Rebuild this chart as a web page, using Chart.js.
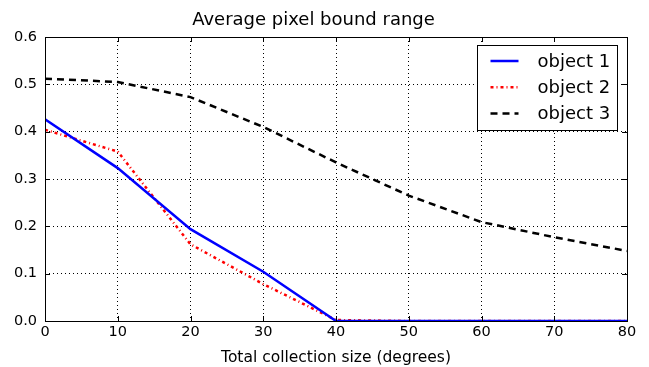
<!DOCTYPE html>
<html>
<head>
<meta charset="utf-8">
<script src="https://cdn.jsdelivr.net/npm/chart.js@4/dist/chart.umd.min.js"></script>
<style>
  html, body { margin: 0; padding: 0; background: #fff; }
  #wrap { width: 649px; height: 367px; }
</style>
</head>
<body>
<div id="wrap"><canvas id="chart"></canvas></div>
<script>
const xValues = [0, 10, 20, 30, 40, 50, 60, 70, 80];
const object1 = [0.426, 0.323, 0.194, 0.104, 0.0, 0.0, 0.0, 0.0, 0.0];
const object2 = [0.404, 0.358, 0.162, 0.078, 0.002, 0.0, 0.0, 0.0, 0.0];
const object3 = [0.512, 0.505, 0.473, 0.410, 0.335, 0.265, 0.209, 0.177, 0.148];
const seriesNames = ['object 1', 'object 2', 'object 3'];

const FONT = 'DejaVu Sans';

function pts(ys) {
    return xValues.map((x, i) => ({x: x, y: ys[i]}));
}

// frame, inward ticks and the boxed legend inside the plot
const frame = {
    id: 'frame',
    afterDraw(chart) {
        const ctx = chart.ctx;
        const a = chart.chartArea;
        const xs = chart.scales.x, ys = chart.scales.y;
        ctx.save();
        ctx.strokeStyle = '#000';
        ctx.lineWidth = 1;
        ctx.setLineDash([]);
        ctx.beginPath();
        xs.ticks.forEach(t => {
            const px = Math.round(xs.getPixelForValue(t.value)) + 0.5;
            ctx.moveTo(px, a.bottom); ctx.lineTo(px, a.bottom - 5);
            ctx.moveTo(px, a.top); ctx.lineTo(px, a.top + 5);
        });
        ys.ticks.forEach(t => {
            const py = Math.round(ys.getPixelForValue(t.value)) + 0.5;
            ctx.moveTo(a.left, py); ctx.lineTo(a.left + 5, py);
            ctx.moveTo(a.right, py); ctx.lineTo(a.right - 5, py);
        });
        ctx.stroke();
        ctx.strokeRect(Math.round(a.left) + 0.5, Math.round(a.top) + 0.5,
            Math.round(a.right - a.left), Math.round(a.bottom - a.top));

        // legend
        const w = 140, h = 85;
        const lx = Math.round(a.right - 10 - w) + 0.5;
        const ly = Math.round(a.top + 8) + 0.5;
        ctx.fillStyle = '#fff';
        ctx.fillRect(lx, ly, w, h);
        ctx.strokeRect(lx, ly, w, h);
        ctx.font = '18px "' + FONT + '"';
        ctx.textBaseline = 'middle';
        chart.data.datasets.forEach((ds, i) => {
            const cy = ly + 15.5 + i * 26.3;
            ctx.strokeStyle = ds.borderColor;
            ctx.lineWidth = 2.5;
            ctx.setLineDash(ds.borderDash || []);
            ctx.beginPath();
            ctx.moveTo(lx + 13, cy); ctx.lineTo(lx + 41, cy);
            ctx.stroke();
            ctx.fillStyle = '#000';
            ctx.fillText(ds.label, lx + 60, cy + 1);
        });
        ctx.restore();
    }
};

new Chart(document.getElementById('chart'), {
    type: 'line',
    data: {
        datasets: [
            {label: seriesNames[0], data: pts(object1), borderColor: '#0000ff', borderWidth: 2.5},
            {label: seriesNames[1], data: pts(object2), borderColor: '#ff0000', borderWidth: 2.5, borderDash: [3, 3, 1, 3]},
            {label: seriesNames[2], data: pts(object3), borderColor: '#000000', borderWidth: 2.5, borderDash: [7, 5]}
        ]
    },
    options: {
        responsive: true,
        maintainAspectRatio: false,
        animation: false,
        layout: {padding: {left: 0, right: 22, top: 0, bottom: 0}},
        elements: {point: {radius: 0}, line: {tension: 0}},
        scales: {
            x: {
                type: 'linear',
                min: 0,
                max: 80,
                ticks: {stepSize: 10, color: '#000', padding: 3, font: {family: FONT, size: 14.5}},
                grid: {color: '#000', lineWidth: 1, drawTicks: false},
                border: {display: false, dash: [1, 3]},
                title: {display: true, text: 'Total collection size (degrees)', color: '#000',
                    font: {family: FONT, size: 15.5}, padding: {top: 2, bottom: 0}},
                afterFit(scale) { scale.height = 46; }
            },
            y: {
                min: 0,
                max: 0.6,
                ticks: {stepSize: 0.1, color: '#000', padding: 8, font: {family: FONT, size: 14.5},
                    callback: v => v.toFixed(1)},
                grid: {color: '#000', lineWidth: 1, drawTicks: false},
                border: {display: false, dash: [1, 3]},
                afterFit(scale) { scale.width = 45; }
            }
        },
        plugins: {
            legend: {display: false},
            tooltip: {enabled: false},
            title: {
                display: true,
                text: 'Average pixel bound range',
                color: '#000',
                font: {family: FONT, size: 18, weight: 'normal'},
                padding: {top: 9.5, bottom: 5.9}
            }
        }
    },
    plugins: [frame]
});
</script>
</body>
</html>
